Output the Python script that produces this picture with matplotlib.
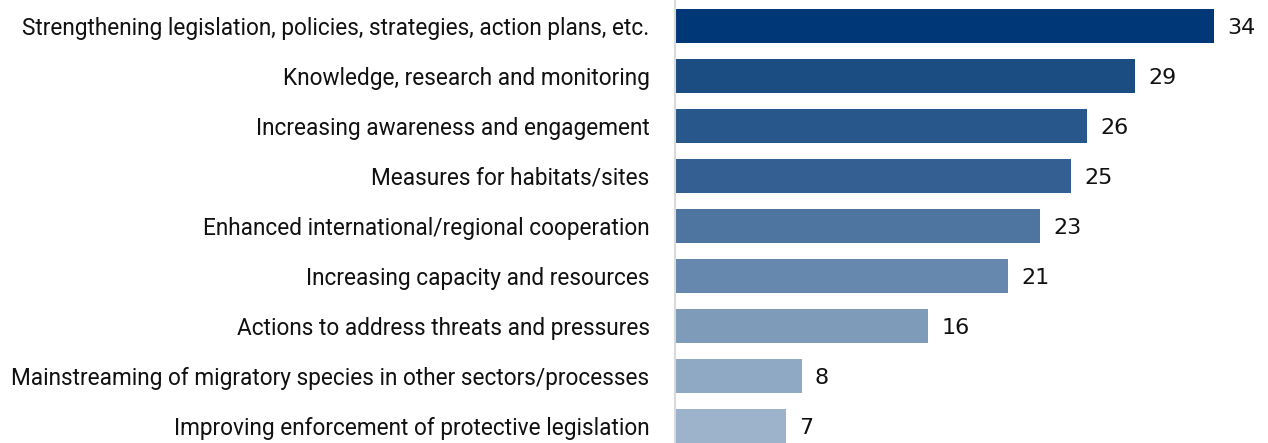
import matplotlib.pyplot as plt

categories = [
    "Strengthening legislation, policies, strategies, action plans, etc.",
    "Knowledge, research and monitoring",
    "Increasing awareness and engagement",
    "Measures for habitats/sites",
    "Enhanced international/regional cooperation",
    "Increasing capacity and resources",
    "Actions to address threats and pressures",
    "Mainstreaming of migratory species in other sectors/processes",
    "Improving enforcement of protective legislation",
]
values = [34, 29, 26, 25, 23, 21, 16, 8, 7]
colors = ["#003777", "#1b4c82", "#27578b", "#335f93", "#4e75a0",
          "#6688af", "#7e9cba", "#8fa8c4", "#9db3cc"]

fig = plt.figure(figsize=(12.68, 4.43), dpi=100)
ax = fig.add_axes([0.532, 0.0, 0.468, 1.0])

y = range(len(categories))
ax.barh(y, values, height=0.68, color=colors)
for i, v in enumerate(values):
    ax.text(v + 0.85, i + 0.04, str(v), va="center", ha="left",
            fontsize=16, family="DejaVu Sans", color="#111111")

ax.set_ylim(8.34, -0.52)
ax.set_xlim(0, 37.4)
ax.set_yticks(list(y))
ax.set_yticklabels(categories, family="Roboto", fontsize=16.3, color="#111111")
ax.tick_params(axis="y", length=0, pad=18)
ax.set_xticks([])
for s in ["top", "right", "bottom"]:
    ax.spines[s].set_visible(False)
ax.spines["left"].set_color("#d9d9d9")
ax.spines["left"].set_linewidth(1.5)

fig.savefig("out.png", dpi=100)
